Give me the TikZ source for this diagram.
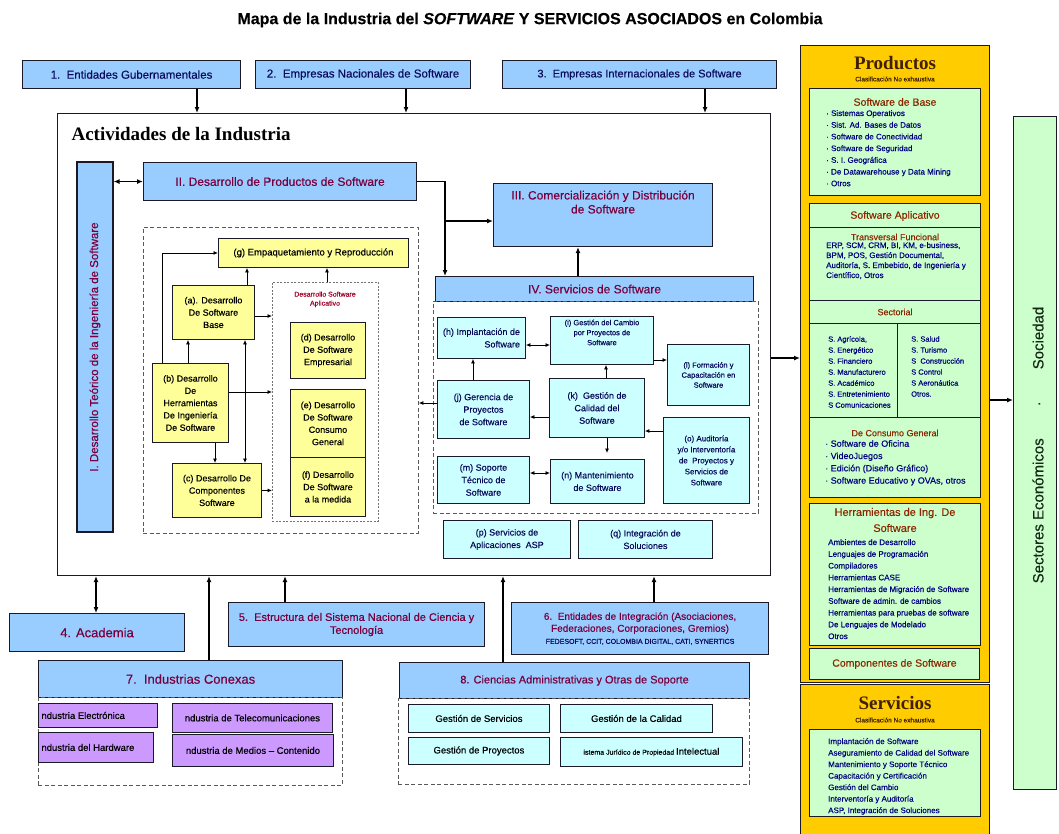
\documentclass[tikz,border=0pt]{standalone}
\usepackage{fontspec}
\setmainfont{Liberation Sans}[FakeBold=0.35]
\newfontfamily\serifb{Liberation Serif}
\usetikzlibrary{arrows.meta}
\definecolor{bluefill}{RGB}{153,204,255}
\definecolor{yel}{RGB}{255,255,153}
\definecolor{cyanf}{RGB}{204,255,255}
\definecolor{lila}{RGB}{204,153,255}
\definecolor{orng}{RGB}{255,204,0}
\definecolor{lgreen}{RGB}{204,255,204}
\definecolor{maroonx}{RGB}{120,0,60}
\definecolor{navyt}{RGB}{10,10,90}
\definecolor{itemc}{RGB}{0,0,128}
\definecolor{brownh}{RGB}{140,40,0}
\definecolor{dbrown}{RGB}{64,32,0}
\definecolor{dred}{RGB}{160,0,40}
\definecolor{edge}{RGB}{25,25,40}
\definecolor{socc}{RGB}{20,40,20}
\newcommand\boxat[6]{\node[#1, anchor=north west, minimum width={(#4)-(#2)}, minimum height={(#5)-(#3)}] (#6) at (#2,#3)}
\newcommand\fs[2]{\fontsize{#1}{#2}\selectfont}
\begin{document}
\begin{tikzpicture}[x=1pt,y=-1pt,
  base/.style={draw=edge, line width=0.9pt, inner sep=1pt, align=center},
  bluebox/.style={base, fill=bluefill, line width=1.1pt, text=maroonx},
  ybox/.style={base, fill=yel, font=\fs{9}{12.3}},
  cbox/.style={base, fill=cyanf, text=navyt, font=\fs{9}{12.5}},
  pbox/.style={base, fill=lila, font=\fs{9.5}{11}},
  gbox/.style={base, fill=lgreen},
  obox/.style={draw=edge, line width=1pt, fill=orng},
  dashbox/.style={draw=black!65, dashed, dash pattern=on 4pt off 2.5pt, line width=0.8pt},
  dotbox/.style={draw=black!55, dash pattern=on 2pt off 1.5pt, line width=0.7pt},
  mainbox/.style={draw=edge, line width=1.1pt},
  arr/.style={-{Latex[length=6pt,width=5pt]}, line width=1.4pt},
  darr/.style={{Latex[length=6pt,width=5pt]}-{Latex[length=6pt,width=5pt]}, line width=1.4pt},
  tarr/.style={-{Latex[length=4.5pt,width=4pt]}, line width=0.8pt},
  tdarr/.style={{Latex[length=4.5pt,width=4pt]}-{Latex[length=4.5pt,width=4pt]}, line width=0.8pt},
  hdr/.style={text=brownh, font=\fs{10.5}{13}, align=center},
  hdrs/.style={text=brownh, font=\fs{9}{11}, align=center},
  items/.style={text=itemc, font=\fs{8}{11.7}, align=left, inner sep=0pt, anchor=north west}
]
\useasboundingbox (0,0) rectangle (1059,833);

% title
\node[font=\bfseries\fs{16}{18}] (title) at (530,20) {Mapa de la Industria del \textit{SOFTWARE} Y SERVICIOS ASOCIADOS en Colombia};

% top boxes
\boxat{bluebox,text=navyt,font=\fs{11.5}{13}}{22}{60}{240}{88}{e1} {1.\ \ Entidades Gubernamentales};
\boxat{bluebox,text=navyt,font=\fs{11.5}{13}}{255}{60}{470}{88}{e2} {2.\ \ Empresas Nacionales de Software};
\boxat{bluebox,text=navyt,font=\fs{11}{13}}{502}{60}{776}{88}{e3} {3.\ \ Empresas Internacionales de Software};

% main box
\boxat{mainbox}{57}{113}{770}{575}{main} {};
\node[anchor=west, font=\serifb\bfseries\fs{19}{21}] (act) at (68,134) {Actividades de la Industria};

\draw[arr] (197,0 |- e1.south) -- (197,0 |- main.north);
\draw[arr] (406,0 |- e2.south) -- (406,0 |- main.north);
\draw[arr] (705,0 |- e3.south) -- (705,0 |- main.north);

% I and II
\node[bluebox, rotate=90, minimum width=370, minimum height=36, font=\fs{11.5}{13}] (I) at (95,347) {I. Desarrollo Teórico de la Ingeniería de Software};
\boxat{bluebox,font=\fs{12}{14}}{143}{162}{416}{200}{II} {II. Desarrollo de Productos de Software};
\draw[darr] (I.south |- II.west) -- (II.west);

% III and IV
\boxat{bluebox,font=\fs{12}{14}}{493}{183}{712}{246}{III} {III. Comercialización y Distribución\\de Software\\[12pt]~};
\boxat{bluebox,font=\fs{12}{14}}{435}{276}{753}{301}{IV} {IV. Servicios de Software};
\draw[arr] (II.east) -| (445,0 |- IV.north);
\coordinate (br) at (445,221);
\draw[arr] (br) -- (br -| III.west);
\draw[arr] (578,0 |- IV.north) -- (578,0 |- III.south);

% product development area
\boxat{dashbox}{143}{227}{418}{533}{d2} {};
\boxat{ybox,font=\fs{9.5}{12}}{218}{238}{408}{267}{g} {(g) Empaquetamiento y Reproducción};
\boxat{dotbox}{272}{282}{378}{521}{apl} {};
\node[text=dred, font=\fs{7}{9}, align=center, anchor=north] (apll) at (325,288) {Desarrollo Software\\Aplicativo};
\boxat{ybox}{172}{285}{254}{339}{a} {(a). Desarrollo\\De Software\\Base};
\boxat{ybox}{290}{322}{365}{378}{d} {(d) Desarrollo\\De Software\\Empresarial};
\boxat{ybox}{290}{389}{365}{457}{e} {(e) Desarrollo\\De Software\\Consumo\\General};
\boxat{ybox}{290}{457}{365}{516}{f} {(f) Desarrollo\\De Software\\a la medida};
\boxat{ybox}{152}{363}{228}{442}{b} {(b) Desarrollo\\De\\Herramientas\\De Ingeniería\\De Software};
\boxat{ybox}{172}{463}{261}{517}{c} {(c) Desarrollo De\\Componentes\\Software};

\draw[tarr] (162,0 |- b.north) |- (g.west);
\draw[tarr] (188,0 |- b.north) -- (188,0 |- a.south);
\draw[tarr] (247,0 |- a.north) -- (247,0 |- g.south);
\draw[tarr] (327,0 |- apl.north) -- (327,0 |- g.south);
\draw[tarr] (a.east |- 0,316) -- (apl.west |- 0,316);
\draw[tarr] (b.east |- 0,392) -- (apl.west |- 0,392);
\draw[tarr] (215,0 |- b.south) -- (215,0 |- c.north);
\draw[tdarr] (245,0 |- a.south) -- (245,0 |- c.north);
\draw[tarr] (c.east) -- (c.east -| apl.west);

% services area
\boxat{dashbox}{433}{301}{758}{513}{d4} {};
\boxat{cbox,align=right}{437}{317}{525}{358}{h} {(h) Implantación de\\Software};
\boxat{cbox,font=\fs{7.5}{10}}{550}{316}{653}{364}{i} {(i) Gestión del Cambio\\por Proyectos de\\Software\\[6pt]~};
\boxat{cbox,font=\fs{7.5}{10}}{667}{344}{749}{405}{l} {(l) Formación y\\Capacitación en\\Software};
\boxat{cbox}{437}{380}{529}{438}{j} {(j) Gerencia de\\Proyectos\\de Software};
\boxat{cbox}{549}{378}{644}{437}{k} {(k)\ \ Gestión de\\Calidad del\\Software};
\boxat{cbox,font=\fs{8}{11}}{663}{417}{749}{503}{o} {(o) Auditoría\\y/o Interventoría\\de\ \ Proyectos y\\Servicios de\\Software};
\boxat{cbox}{437}{456}{529}{503}{m} {(m) Soporte\\Técnico de\\Software};
\boxat{cbox}{550}{459}{644}{503}{n} {(n) Mantenimiento\\de Software};
\boxat{cbox}{443}{520}{570}{558}{p} {(p) Servicios de\\Aplicaciones\ \ ASP};
\boxat{cbox}{578}{520}{712}{558}{q} {(q) Integración de\\Soluciones};

\draw[tdarr] (h.east |- 0,345) -- (i.west |- 0,345);
\draw[tarr] (473,0 |- j.north) -- (473,0 |- h.south);
\draw[tarr] (606,0 |- k.north) -- (606,0 |- i.south);
\draw[tarr] (i.east |- 0,360) -- (l.west |- 0,360);
\draw[tarr] (k.west |- 0,417) -- (j.east |- 0,417);
\draw[tarr] (607,0 |- k.south) -- (607,453);
\draw[tarr] (o.west |- 0,431) -- (k.east |- 0,431);
\draw[tdarr] (m.east |- 0,473) -- (n.west |- 0,473);
\draw[tarr] (j.west |- 0,403) -- (d2.east |- 0,403);

% bottom boxes
\boxat{bluebox,font=\fs{13}{15}}{9}{613}{184}{651}{acad} {4. Academia};
\boxat{bluebox,font=\fs{11}{13}}{228}{602}{484}{646}{e5} {5.\ \ Estructura del Sistema Nacional de Ciencia y\\Tecnología};
\boxat{bluebox,font=\fs{10}{12}}{511}{602}{768}{654}{e6} {6.\ \ Entidades de Integración (Asociaciones,\\Federaciones, Corporaciones, Gremios)\\{\color{navyt}\fs{7}{10}FEDESOFT, CCIT, COLOMBIA DIGITAL, CATI, SYNERTICS}};
\boxat{bluebox,font=\fs{13}{15}}{38}{660}{342}{697}{e7} {7.\ \ Industrias Conexas};
\boxat{dashbox}{38}{697}{342}{785}{d7} {};
\boxat{pbox}{38}{703}{157}{727}{p1} {\makebox[113pt][l]{ndustria Electrónica}};
\boxat{pbox}{38}{732}{153}{762}{p2} {\makebox[109pt][l]{ndustria del Hardware}};
\boxat{pbox}{172}{703}{332}{732}{p3} {ndustria de Telecomunicaciones};
\boxat{pbox}{172}{734}{333}{766}{p4} {ndustria de Medios -- Contenido};
\boxat{bluebox,font=\fs{11}{13}}{399}{662}{749}{698}{e8} {8. Ciencias Administrativas y Otras de Soporte};
\boxat{dashbox}{398}{698}{749}{784}{d8} {};
\boxat{cbox,text=black,font=\fs{9.5}{11}}{408}{704}{549}{732}{g1} {Gestión de Servicios};
\boxat{cbox,text=black,font=\fs{9.5}{11}}{560}{704}{712}{732}{g2} {Gestión de la Calidad};
\boxat{cbox,text=black,font=\fs{9.5}{11}}{408}{737}{549}{764}{g3} {Gestión de Proyectos};
\boxat{cbox,text=black,font=\fs{9.5}{11}}{560}{737}{742}{766}{g4} {{\fs{7}{9}istema Jurídico de Propiedad }Intelectual};

\draw[darr] (96,0 |- acad.north) -- (96,0 |- main.south);
\draw[arr] (209,0 |- e7.north) -- (209,0 |- main.south);
\draw[arr] (285,0 |- e5.north) -- (285,0 |- main.south);
\draw[arr] (503,0 |- e8.north) -- (503,0 |- main.south);
\draw[arr] (654,0 |- e6.north) -- (654,0 |- main.south);

% Productos panel
\boxat{obox}{800}{45}{989}{682}{prod} {};
\node[font=\serifb\bfseries\fs{19}{21}, text=dbrown] (prodt) at (895,63) {Productos};
\node[font=\fs{6.5}{8}, text=dbrown] (prodc) at (895,79) {Clasificación No exhaustiva};
\boxat{gbox}{809}{88}{980}{195}{sb} {};
\node[hdr] (sbh) at (895,102) {Software de Base};
\node[items] (sbi) at (826,110) {· Sistemas Operativos\\· Sist. Ad. Bases de Datos\\· Software de Conectividad\\· Software de Seguridad\\· S. I. Geográfica\\· De Datawarehouse y Data Mining\\· Otros};

\boxat{gbox}{809}{203}{980}{497}{sa} {};
\draw[draw=edge, line width=0.9pt] (sa.west |- 0,227) -- (sa.east |- 0,227);
\draw[draw=edge, line width=0.9pt] (sa.west |- 0,300) -- (sa.east |- 0,300);
\draw[draw=edge, line width=0.9pt] (sa.west |- 0,323) -- (sa.east |- 0,323);
\draw[draw=edge, line width=0.9pt] (sa.west |- 0,417) -- (sa.east |- 0,417);
\draw[draw=edge, line width=0.9pt] (897,0 |- 0,323) -- (897,417);
\node[hdr] (sah) at (895,216) {Software Aplicativo};
\node[hdrs] (tfh) at (895,237) {Transversal Funcional};
\node[items, font=\fs{8}{10}] (tfi) at (826,242) {ERP, SCM, CRM, BI, KM, e-business,\\BPM, POS, Gestión Documental,\\Auditoría, S. Embebido, de Ingeniería y\\Científico, Otros};
\node[hdrs] (sech) at (895,312) {Sectorial};
\node[items, font=\fs{7.5}{11}] (secl) at (828,336) {S. Agrícola,\\S. Energético\\S. Financiero\\S. Manufacturero\\S. Académico\\S. Entretenimiento\\S Comunicaciones};
\node[items, font=\fs{7.5}{11}] (secr) at (911,336) {S. Salud\\S. Turismo\\S\ \ Construcción\\S Control\\S Aeronáutica\\Otros.};
\node[hdrs] (cgh) at (895,433) {De Consumo General};
\node[items, font=\fs{9}{12.3}] (cgi) at (825,440) {· Software de Oficina\\· VideoJuegos\\· Edición (Diseño Gráfico)\\· Software Educativo y OVAs, otros};

\boxat{gbox}{809}{503}{980}{645}{hr} {};
\node[hdr, font=\fs{11}{16}] (hrh) at (895,520) {Herramientas de Ing. De\\Software};
\node[items, font=\fs{8}{11.75}] (hri) at (828,539) {Ambientes de Desarrollo\\Lenguajes de Programación\\Compiladores\\Herramientas CASE\\Herramientas de Migración de Software\\Software de admin. de cambios\\Herramientas para pruebas de software\\De Lenguajes de Modelado\\Otros};

\boxat{gbox,text=brownh,font=\fs{10.5}{12}}{809}{648}{979}{679}{comp} {Componentes de Software};

% Servicios panel
\boxat{obox}{800}{684}{989}{836}{serv} {};
\node[font=\serifb\bfseries\fs{19}{21}, text=dbrown] (servt) at (895,703) {Servicios};
\node[font=\fs{6.5}{8}, text=dbrown] (servc) at (895,720) {Clasificación No exhaustiva};
\boxat{gbox}{809}{729}{980}{816}{svb} {};
\node[items, font=\fs{8}{11.5}] (svi) at (828,738) {Implantación de Software\\Aseguramiento de Calidad del Software\\Mantenimiento y Soporte Técnico\\Capacitación y Certificación\\Gestión del Cambio\\Interventoría y Auditoría\\ASP, Integración de Soluciones};

% Sociedad
\boxat{gbox}{1013}{116}{1056}{789}{soc} {};
\node[rotate=90, font=\fs{15}{17}, text=socc] (soct) at (1038,445) {Sectores Económicos\hspace{32pt}·\hspace{32pt}Sociedad};

\draw[arr] (main.east |- 0,358) -- (prod.west |- 0,358);
\draw[arr] (prod.east |- 0,400) -- (soc.west |- 0,400);
\end{tikzpicture}
\end{document}
